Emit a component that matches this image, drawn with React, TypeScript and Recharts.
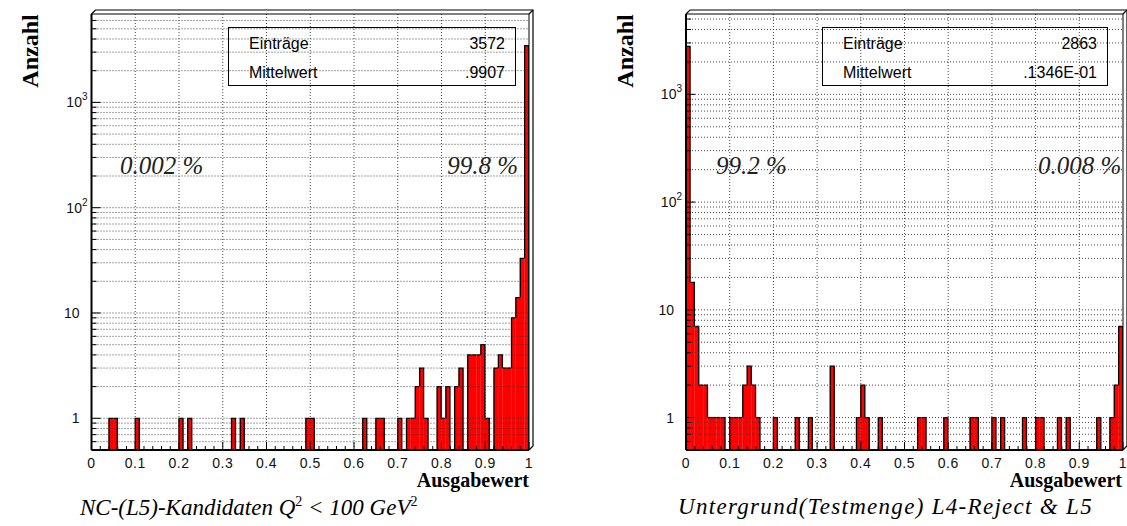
import { BarChart, Bar, XAxis, YAxis, ReferenceLine } from 'recharts';

// 100 bins of width 0.01 on [0, 1]; only filled bins are listed
const N_BINS = 100;
const BIN_WIDTH = 0.01;

// NC-(L5) candidates, Q^2 < 100 GeV^2
const ncBins = [4, 5, 10, 20, 22, 32, 34, 49, 50, 62, 65, 66, 70, 72, 73, 74, 75, 76, 79, 80, 81, 83, 84, 86, 87, 88, 89, 90, 92, 93, 94, 95, 96, 97, 98, 99];
const ncCounts = [1, 1, 1, 1, 1, 1, 1, 1, 1, 1, 1, 1, 1, 1, 1, 2, 3, 1, 2, 1, 2, 2, 3, 4, 4, 4, 5, 1, 3, 4, 3, 3, 9, 14, 33, 3454];

// background (test set), L4-reject & L5
const bgBins = [0, 1, 2, 3, 4, 5, 6, 7, 8, 10, 11, 12, 13, 14, 15, 16, 20, 25, 28, 33, 39, 40, 41, 44, 53, 54, 59, 65, 66, 70, 72, 77, 80, 81, 85, 87, 94, 97, 98, 99];
const bgCounts = [2785, 18, 7, 2, 2, 1, 1, 1, 1, 1, 1, 1, 2, 3, 2, 1, 1, 1, 1, 3, 1, 2, 1, 1, 1, 1, 1, 1, 1, 1, 1, 1, 1, 1, 1, 1, 1, 1, 2, 7];

const xMajorTicks = [0, 0.1, 0.2, 0.3, 0.4, 0.5, 0.6, 0.7, 0.8, 0.9, 1];
const xMinorSteps = [0, 0.02, 0.04, 0.06, 0.08];
const xGridLines = [0.1, 0.2, 0.3, 0.4, 0.5, 0.6, 0.7, 0.8, 0.9];
const yDecades = [1, 10, 100, 1000];
const yMantissas = [1, 2, 3, 4, 5, 6, 7, 8, 9];
const yBelowOne = [0.5, 0.6, 0.7, 0.8, 0.9];

const Y_MIN = 0.5;
const PLOT_TOP = 14;
const PLOT_BOTTOM = 450;
const DEPTH = 4;
const TICK_MARGIN = 6;
const SANS = '"Liberation Sans", Arial, Helvetica, sans-serif';
const SERIF = '"Liberation Serif", "Times New Roman", Times, serif';

type BinRow = { x: number; c: number | null; prev: number; next: number };

function histogram(bins: number[], counts: number[]): BinRow[] {
  const full = new Array(N_BINS).fill(0);
  bins.forEach((b, i) => {
    full[b] = counts[i];
  });
  return full.map((c, i) => ({
    x: +((i + 0.5) * BIN_WIDTH).toFixed(3),
    c: c > 0 ? c : null,
    prev: i > 0 ? full[i - 1] : 0,
    next: i < N_BINS - 1 ? full[i + 1] : 0,
  }));
}

function yTickValues(yMax: number): number[] {
  const vals = [...yBelowOne];
  yDecades.forEach((d) => yMantissas.forEach((m) => vals.push(m * d)));
  return vals.filter((v) => v <= yMax);
}

// minor x ticks every 0.02 between the labelled ones
const xAllTicks = xMajorTicks
  .slice(0, -1)
  .flatMap((t) => xMinorSteps.map((o) => +(t + o).toFixed(2)))
  .concat([1]);

// step-outline histogram bin: red fill, black edge only where the outline runs
function makeBinShape(yMax: number) {
  return (props: any) => {
    const { x, y, width, payload, background } = props;
    if (!payload || !(payload.c > 0) || !Number.isFinite(y) || !Number.isFinite(x)) return null;
    const top = background && Number.isFinite(background.y) ? background.y : PLOT_TOP;
    const h = background && Number.isFinite(background.height) && background.height > 0 ? background.height : PLOT_BOTTOM - PLOT_TOP;
    const bottom = top + h;
    const lo = Math.log10(Y_MIN);
    const span = Math.log10(yMax) - lo;
    const pix = (v: number) => (v > 0 ? bottom - ((Math.log10(v) - lo) / span) * h : bottom);
    const c = payload.c;
    const startY = payload.prev < c ? pix(payload.prev) : y;
    const endY = payload.next < c ? pix(payload.next) : y;
    const d = `M${x},${startY}V${y}H${x + width}V${endY}`;
    return (
      <g>
        <rect x={x - 0.3} y={y} width={width + 0.6} height={bottom - y} fill="#ff0000" stroke="none" />
        <path d={d} fill="none" stroke="#000" strokeWidth={1.3} />
      </g>
    );
  };
}

function YTick(props: any) {
  const { x, y, payload } = props;
  const v = payload.value;
  const axisX = x + TICK_MARGIN;
  const major = yDecades.includes(v);
  let label = null;
  if (major) {
    const style = { fontFamily: SANS, fontSize: 14, fill: '#111' };
    if (v >= 100) {
      label = (
        <text x={axisX - 4} y={y} textAnchor="end" dominantBaseline="central" style={style}>
          10
          <tspan dy={-6} fontSize={10}>
            {Math.round(Math.log10(v))}
          </tspan>
        </text>
      );
    } else {
      label = (
        <text x={axisX - 12} y={y} textAnchor="end" dominantBaseline="central" style={style}>
          {v}
        </text>
      );
    }
  }
  return (
    <g>
      <line x1={axisX} x2={axisX + (major ? 9 : 5)} y1={y} y2={y} stroke="#000" strokeWidth={1} />
      {label}
    </g>
  );
}

function XTick(props: any) {
  const { x, y, payload } = props;
  const v = payload.value;
  const axisY = y - TICK_MARGIN;
  const major = Math.abs(v * 10 - Math.round(v * 10)) < 1e-6;
  return (
    <g>
      <line x1={x} x2={x} y1={axisY} y2={axisY - (major ? 8 : 4)} stroke="#000" strokeWidth={1} />
      {major && (
        <text x={x} y={axisY + 13} textAnchor="middle" dominantBaseline="central" style={{ fontFamily: SANS, fontSize: 14, fill: '#111', letterSpacing: 0.5 }}>
          {String(+v.toFixed(1))}
        </text>
      )}
    </g>
  );
}

interface PanelProps {
  data: BinRow[];
  yMax: number;
  left: number;
  width: number;
  axisWidth: number;
  marginRight: number;
}

function Panel({ data, yMax, left, width, axisWidth, marginRight }: PanelProps) {
  const height = 526;
  const pl = axisWidth;
  const pr = width - marginRight;
  const yTicks = yTickValues(yMax);
  const grid = { stroke: '#333', strokeWidth: 0.9, strokeDasharray: '1 2' };
  return (
    <div style={{ position: 'absolute', left, top: 0, width, height }}>
      <BarChart
        width={width}
        height={height}
        data={data}
        margin={{ top: PLOT_TOP, right: marginRight, bottom: 0, left: 0 }}
        barCategoryGap={0}
        barGap={0}
      >
        <XAxis
          dataKey="x"
          type="number"
          domain={[0, 1]}
          allowDataOverflow
          ticks={xAllTicks}
          interval={0}
          height={height - PLOT_BOTTOM}
          tickLine={false}
          tickSize={0}
          tickMargin={TICK_MARGIN}
          axisLine={{ stroke: '#000', strokeWidth: 2 }}
          tick={<XTick />}
        />
        <YAxis
          type="number"
          scale="log"
          domain={[Y_MIN, yMax]}
          allowDataOverflow
          ticks={yTicks}
          interval={0}
          width={axisWidth}
          tickLine={false}
          tickSize={0}
          tickMargin={TICK_MARGIN}
          axisLine={{ stroke: '#000', strokeWidth: 2 }}
          tick={<YTick />}
        />
        <Bar dataKey="c" shape={makeBinShape(yMax)} isAnimationActive={false} />
        {yTicks
          .filter((v) => v > Y_MIN)
          .map((v) => (
            <ReferenceLine key={`h${v}`} y={v} {...grid} />
          ))}
        {xGridLines.map((v) => (
          <ReferenceLine key={`v${v}`} x={v} {...grid} />
        ))}
      </BarChart>
      <svg width={width} height={height} style={{ position: 'absolute', left: 0, top: 0, pointerEvents: 'none' }}>
        <g fill="none" stroke="#000" strokeWidth={1.2}>
          <path d={`M${pl},${PLOT_TOP}H${pr}V${PLOT_BOTTOM}`} strokeWidth={1} />
          <path d={`M${pl},${PLOT_TOP}L${pl + DEPTH},${PLOT_TOP - DEPTH}H${pr + DEPTH}V${PLOT_BOTTOM - DEPTH}L${pr},${PLOT_BOTTOM}`} />
          <path d={`M${pr},${PLOT_TOP}L${pr + DEPTH},${PLOT_TOP - DEPTH}`} />
        </g>
      </svg>
    </div>
  );
}

const abs = (style: any) => ({ position: 'absolute' as const, whiteSpace: 'nowrap' as const, lineHeight: 1, ...style });

function StatsBox({ left, width, entries, mean }: { left: number; width: number; entries: string; mean: string }) {
  const text = { fontFamily: SANS, fontSize: 16, color: '#000' };
  return (
    <div style={abs({ left, top: 27, width, height: 59, border: '1.5px solid #000', boxSizing: 'border-box' })}>
      <span style={abs({ ...text, left: 20, top: 8 })}>Einträge</span>
      <span style={abs({ ...text, right: 10, top: 8 })}>{entries}</span>
      <span style={abs({ ...text, left: 20, top: 37 })}>Mittelwert</span>
      <span style={abs({ ...text, right: 10, top: 37 })}>{mean}</span>
    </div>
  );
}

export default function App() {
  const ncData = histogram(ncBins, ncCounts);
  const bgData = histogram(bgBins, bgCounts);
  const ncMax = 2 * Math.max(...ncCounts);
  const bgMax = 2 * Math.max(...bgCounts);
  const pct = { fontFamily: SERIF, fontStyle: 'italic', fontSize: 25, color: '#222' };
  const axisTitle = { fontFamily: SERIF, fontWeight: 'bold', fontSize: 20, color: '#000' };
  const yTitle = { fontFamily: SERIF, fontWeight: 'bold', fontSize: 24, color: '#000', transform: 'translate(-50%, -50%) rotate(-90deg)' };
  const caption = { fontFamily: SERIF, fontStyle: 'italic', fontSize: 23, color: '#000' };
  const sup = { fontSize: 14, verticalAlign: 'super', fontStyle: 'normal' };
  return (
    <div style={{ position: 'absolute', left: 0, top: 0, width: 1127, height: 526, background: '#fff', overflow: 'hidden' }}>
      <Panel data={ncData} yMax={ncMax} left={0} width={560} axisWidth={91.5} marginRight={31} />
      <Panel data={bgData} yMax={bgMax} left={560} width={567} axisWidth={126} marginRight={4} />

      <StatsBox left={228} width={288} entries="3572" mean=".9907" />
      <StatsBox left={822} width={286} entries="2863" mean=".1346E-01" />

      <span style={abs({ ...pct, left: 120, top: 153 })}>0.002 %</span>
      <span style={abs({ ...pct, right: 1127 - 518, top: 153 })}>99.8 %</span>
      <span style={abs({ ...pct, left: 716, top: 153 })}>99.2 %</span>
      <span style={abs({ ...pct, left: 1038, top: 153 })}>0.008 %</span>

      <span style={abs({ ...yTitle, left: 30, top: 51 })}>Anzahl</span>
      <span style={abs({ ...yTitle, left: 625, top: 51 })}>Anzahl</span>

      <span style={abs({ ...axisTitle, right: 1127 - 529, top: 470 })}>Ausgabewert</span>
      <span style={abs({ ...axisTitle, right: 5, top: 470 })}>Ausgabewert</span>

      <span style={abs({ ...caption, left: 80, top: 495 })}>
        NC-(L5)-Kandidaten Q<span style={sup}>2</span> &lt; 100 GeV<span style={sup}>2</span>
      </span>
      <span style={abs({ ...caption, left: 678, top: 495, letterSpacing: 1.3 })}>Untergrund(Testmenge) L4-Reject &amp; L5</span>
    </div>
  );
}
